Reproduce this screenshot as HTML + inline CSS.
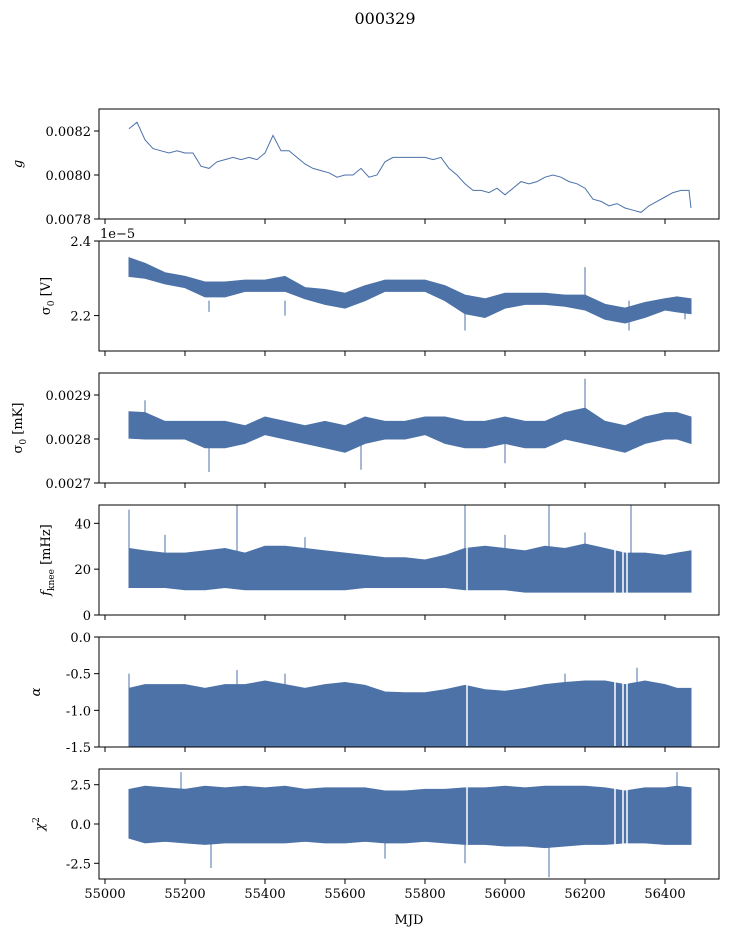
<!DOCTYPE html>
<html><head><meta charset="utf-8"><style>
body{margin:0;background:#fff;}
svg text{font-family:"DejaVu Serif","Liberation Serif",serif;fill:#000;}
</style></head><body>
<svg id="fig" width="729" height="936" xmlns="http://www.w3.org/2000/svg">
<text x="385" y="24" font-size="16" text-anchor="middle">000329</text>
<text x="409" y="924" font-size="13" text-anchor="middle">MJD</text>
</svg>
<script>
const xTicks=[55000,55200,55400,55600,55800,56000,56200,56400];
const gDays=[55060,55080,55100,55120,55140,55160,55180,55200,55220,55240,55260,55280,55300,55320,55340,55360,55380,55400,55420,55440,55460,55480,55500,55520,55540,55560,55580,55600,55620,55640,55660,55680,55700,55720,55740,55760,55780,55800,55820,55840,55860,55880,55900,55920,55940,55960,55980,56000,56020,56040,56060,56080,56100,56120,56140,56160,56180,56200,56220,56240,56260,56280,56300,56320,56340,56360,56380,56400,56420,56440,56460,56465];
const gVals=[0.00821,0.00824,0.00816,0.00812,0.00811,0.00810,0.00811,0.00810,0.00810,0.00804,0.00803,0.00806,0.00807,0.00808,0.00807,0.00808,0.00807,0.00810,0.00818,0.00811,0.00811,0.00808,0.00805,0.00803,0.00802,0.00801,0.00799,0.00800,0.00800,0.00803,0.00799,0.00800,0.00806,0.00808,0.00808,0.00808,0.00808,0.00808,0.00807,0.00808,0.00803,0.00800,0.00796,0.00793,0.00793,0.00792,0.00794,0.00791,0.00794,0.00797,0.00796,0.00797,0.00799,0.00800,0.00799,0.00797,0.00796,0.00794,0.00789,0.00788,0.00786,0.00787,0.00785,0.00784,0.00783,0.00786,0.00788,0.00790,0.00792,0.00793,0.00793,0.00785];
const bandDays=[55060,55100,55150,55200,55250,55300,55350,55400,55450,55500,55550,55600,55650,55700,55750,55800,55850,55900,55950,56000,56050,56100,56150,56200,56250,56300,56350,56400,56430,56465];
const sigVCenter=[2.33,2.32,2.30,2.29,2.27,2.27,2.28,2.28,2.285,2.26,2.25,2.24,2.26,2.28,2.28,2.28,2.26,2.23,2.22,2.24,2.245,2.245,2.24,2.235,2.21,2.20,2.215,2.23,2.23,2.225];
const sigVSpread=[0.025,0.02,0.015,0.015,0.02,0.02,0.015,0.015,0.02,0.015,0.02,0.02,0.02,0.015,0.015,0.015,0.02,0.025,0.025,0.02,0.015,0.015,0.015,0.02,0.02,0.02,0.02,0.015,0.02,0.02];
const sigKCenter=[0.002832,0.00283,0.00282,0.00282,0.00281,0.00281,0.00281,0.00283,0.00282,0.00281,0.00281,0.00280,0.00282,0.00282,0.00282,0.00283,0.00282,0.00281,0.00281,0.00282,0.00281,0.00281,0.00283,0.00283,0.00281,0.00280,0.00282,0.00283,0.00283,0.00282];
const sigKSpread=[0.00003,0.00003,0.00002,0.00002,0.00003,0.00003,0.00002,0.00002,0.00002,0.00002,0.00003,0.00003,0.00003,0.00002,0.00002,0.00002,0.00003,0.00003,0.00003,0.00003,0.00003,0.00003,0.00003,0.00004,0.00003,0.00003,0.00003,0.00003,0.00003,0.00003];
const fkLow=[12,12,12,11,11,12,11,11,11,11,11,11,12,12,12,12,12,11,11,11,10,10,10,10,10,10,10,10,10,10];
const fkHigh=[29,28,27,27,28,29,27,30,30,29,28,27,26,25,25,24,26,29,30,29,28,30,29,31,29,27,27,26,27,28];
const alLow=[-1.5,-1.5,-1.5,-1.5,-1.5,-1.5,-1.5,-1.5,-1.5,-1.5,-1.5,-1.5,-1.5,-1.5,-1.5,-1.5,-1.5,-1.5,-1.5,-1.5,-1.5,-1.5,-1.5,-1.5,-1.5,-1.5,-1.5,-1.5,-1.5,-1.5];
const alHigh=[-0.7,-0.65,-0.65,-0.65,-0.7,-0.65,-0.65,-0.6,-0.65,-0.7,-0.65,-0.62,-0.66,-0.75,-0.76,-0.76,-0.72,-0.66,-0.72,-0.74,-0.7,-0.65,-0.62,-0.6,-0.6,-0.65,-0.6,-0.65,-0.7,-0.7];
const chiLow=[-0.9,-1.2,-1.1,-1.2,-1.3,-1.2,-1.2,-1.2,-1.2,-1.1,-1.2,-1.2,-1.1,-1.2,-1.2,-1.1,-1.2,-1.3,-1.3,-1.4,-1.4,-1.5,-1.4,-1.3,-1.3,-1.2,-1.2,-1.3,-1.3,-1.3];
const chiHigh=[2.2,2.4,2.3,2.2,2.4,2.3,2.4,2.3,2.4,2.2,2.3,2.3,2.3,2.1,2.1,2.2,2.2,2.3,2.3,2.4,2.3,2.4,2.4,2.4,2.3,2.1,2.3,2.3,2.4,2.3];
const gaps=[55905,56275,56295,56305];
const fkSpikes=[[55060,46],[55330,50],[55900,50],[56110,50],[56315,50],[55150,35],[55500,34],[56000,35],[56200,36]];
const alSpikes=[[55060,-0.5],[55330,-0.45],[56330,-0.42],[55450,-0.5],[56150,-0.5]];
const chiSpikes=[[55190,3.3],[55265,-2.8],[56110,-3.4],[56430,3.3],[55700,-2.2],[55900,-2.5]];
const svg=document.getElementById('fig');
const NS='http://www.w3.org/2000/svg';
const X0=99,X1=719,BLUE='#4c72a8';
function xs(d){return 105+(d-55000)*0.4;}
function mk(tag,attrs){const e=document.createElementNS(NS,tag);for(const k in attrs)e.setAttribute(k,attrs[k]);svg.appendChild(e);return e;}
function panel(i,top,ymin,ymax,yticks,ylab,name,fmt,labX){
  const bot=top+110;
  const ys=v=>bot-(v-ymin)/(ymax-ymin)*110;
  return {top,bot,ys,draw(){
    const r=mk('rect',{x:X0,y:top,width:X1-X0,height:110,fill:'none',stroke:'#000','stroke-width':1});
    
    
    yticks.forEach(t=>{const y=ys(t);
      const l=mk('line',{x1:X0-5,x2:X0,y1:y,y2:y,stroke:'#000'});
      
      
      const tx=mk('text',{x:X0-8,y:y+5,'font-size':13,'text-anchor':'end'});tx.textContent=fmt(t);
      
      });
    xTicks.forEach(t=>{const x=xs(t);
      const l=mk('line',{x1:x,x2:x,y1:bot,y2:bot+5,stroke:'#000'});
      
      
      if(i===5){const tx=mk('text',{x:x,y:bot+19,'font-size':13,'text-anchor':'middle'});tx.textContent=t;
        
        }});
    const yl=mk('text',{x:0,y:0,'font-size':13,'text-anchor':'middle',transform:`translate(${labX},${top+55}) rotate(-90)`});
    yl.innerHTML=ylab;
    
    
  }};
}
function band(p,lo,hi,name){
  let pts=bandDays.map((d,k)=>xs(d)+','+p.ys(hi[k]));
  pts=pts.concat(bandDays.map((d,k)=>xs(d)+','+p.ys(lo[k])).reverse());
  const e=mk('polygon',{points:pts.join(' '),fill:BLUE,stroke:BLUE,'stroke-width':1});
  
  
}
function spikes(p,arr,base,name){arr.forEach(s=>{const e=mk('line',{x1:xs(s[0]),x2:xs(s[0]),y1:p.ys(base),y2:Math.max(p.top,Math.min(p.bot,p.ys(s[1]))),stroke:BLUE,'stroke-width':1});
  
  });}
function gapLines(p,name){gaps.forEach(g=>{const e=mk('line',{x1:xs(g),x2:xs(g),y1:p.top+1,y2:p.bot-1,stroke:'#fff','stroke-width':1.5});
  
  });}
const P=[
 panel(0,109,0.0078,0.0083,[0.0078,0.0080,0.0082],'<tspan font-style="italic">g</tspan>','gain',v=>v.toFixed(4),22),
 panel(1,241,2.105,2.4,[2.2,2.4],'σ<tspan font-size="9" dy="4">0</tspan><tspan dy="-4"> [V]</tspan>','sigma-volt',v=>v.toFixed(1),50),
 panel(2,373,0.0027,0.00295,[0.0027,0.0028,0.0029],'σ<tspan font-size="9" dy="4">0</tspan><tspan dy="-4"> [mK]</tspan>','sigma-mk',v=>v.toFixed(4),22),
 panel(3,505,0,48,[0,20,40],'<tspan font-style="italic">f</tspan><tspan font-size="9" dy="4">knee</tspan><tspan dy="-4"> [mHz]</tspan>','fknee',v=>v,50),
 panel(4,637,-1.5,0,[-1.5,-1.0,-0.5,0.0],'<tspan font-style="italic">α</tspan>','alpha',v=>v.toFixed(1),40),
 panel(5,769,-3.5,3.5,[-2.5,0,2.5],'<tspan font-style="italic">χ</tspan><tspan font-size="9" dy="-5">2</tspan>','chi2',v=>v.toFixed(1),44)
];
{const p=P[0];const e=mk('polyline',{points:gDays.map((d,k)=>xs(d)+','+p.ys(gVals[k])).join(' '),fill:'none',stroke:BLUE,'stroke-width':1});
 
 }
band(P[1],sigVCenter.map((c,k)=>c-sigVSpread[k]),sigVCenter.map((c,k)=>c+sigVSpread[k]),'sigma-volt');
spikes(P[1],[[56200,2.33],[55900,2.16],[56310,2.16],[55260,2.21],[55450,2.2],[56450,2.19]],2.24,'sigma-volt');
band(P[2],sigKCenter.map((c,k)=>c-sigKSpread[k]),sigKCenter.map((c,k)=>c+sigKSpread[k]),'sigma-mk');
spikes(P[2],[[56200,0.002937],[55260,0.002725],[55640,0.00273],[55100,0.002888],[56000,0.002745]],0.00282,'sigma-mk');
band(P[3],fkLow,fkHigh,'fknee');spikes(P[3],fkSpikes,20,'fknee');gapLines(P[3],'fknee');
band(P[4],alLow,alHigh,'alpha');spikes(P[4],alSpikes,-1,'alpha');gapLines(P[4],'alpha');
band(P[5],chiLow,chiHigh,'chi2');spikes(P[5],chiSpikes,0.5,'chi2');gapLines(P[5],'chi2');
P.forEach(p=>p.draw());
{const t=mk('text',{x:100,y:238,'font-size':13});t.textContent='1e−5';
 
 }
</script>
</body></html>
